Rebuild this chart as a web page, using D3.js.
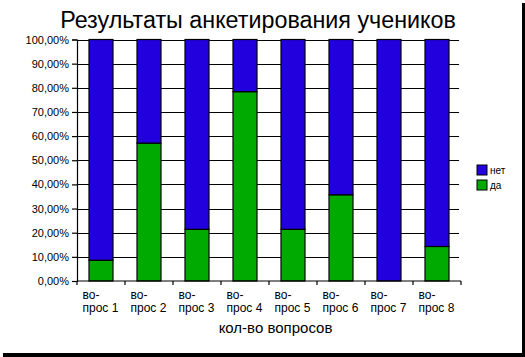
<!DOCTYPE html>
<html><head><meta charset="utf-8">
<script src="https://cdn.jsdelivr.net/npm/d3@7"></script>
<style>body{margin:0;background:#fff}svg{display:block;font-family:"Liberation Sans",Arial,sans-serif}</style>
</head><body>
<svg id="c" width="525" height="357"></svg>
<script>
const categories = ["вопрос 1","вопрос 2","вопрос 3","вопрос 4","вопрос 5","вопрос 6","вопрос 7","вопрос 8"];
const labelLine1 = ["во-","во-","во-","во-","во-","во-","во-","во-"];
const labelLine2 = ["прос 1","прос 2","прос 3","прос 4","прос 5","прос 6","прос 7","прос 8"];
const da  = [8.6, 57.1, 21.4, 78.4, 21.4, 35.7, 0, 14.3];
const net = [91.4, 42.9, 78.6, 21.6, 78.6, 64.3, 100, 85.7];
const seriesNames = ["да","нет"];
const yTicks = [0,10,20,30,40,50,60,70,80,90,100];
const colors = {"да":"#00AA00","нет":"#2200DD"};

const svg = d3.select("#c");
const m = {l:77, r:461, t:39.5, b:281};
const x = d3.scaleBand().domain(categories).range([m.l, m.r]).paddingInner(0.5).paddingOuter(0.25);
const y = d3.scaleLinear().domain([0,100]).range([m.b, m.t]);

// frame shadow
svg.append("rect").attr("x",522).attr("y",3).attr("width",3).attr("height",354).attr("fill","#000");
svg.append("rect").attr("x",3).attr("y",353).attr("width",522).attr("height",4).attr("fill","#000");

// title
svg.append("text").attr("x",258).attr("y",28).attr("text-anchor","middle")
  .attr("font-size",23.3).text("Результаты анкетирования учеников");

// gridlines
svg.append("g").selectAll("line").data(yTicks.filter(d=>d>0)).join("line")
  .attr("x1",m.l).attr("x2",m.r-2).attr("y1",d=>Math.round(y(d))+0.5).attr("y2",d=>Math.round(y(d))+0.5)
  .attr("stroke","#000").attr("stroke-width",1.2);

// stacked bars
const rows = categories.map((c,i)=>({cat:c,"да":da[i],"нет":net[i]}));
const stack = d3.stack().keys(seriesNames)(rows);
svg.append("g").selectAll("g").data(stack).join("g").attr("fill",d=>colors[d.key])
  .selectAll("rect").data(d=>d).join("rect")
  .attr("x",d=>x(d.data.cat)).attr("width",x.bandwidth())
  .attr("y",d=>y(d[1])).attr("height",d=>y(d[0])-y(d[1]))
  .attr("stroke","#000").attr("stroke-width",1.2);

// y axis
const ya = d3.axisLeft(y).tickValues(yTicks).tickSize(5).tickPadding(3)
  .tickFormat(d=>d3.format(".2f")(d).replace(".",",")+"%");
const yg = svg.append("g").attr("transform",`translate(${m.l},0)`).call(ya);
yg.select(".domain").attr("stroke","#000").attr("stroke-width",1.2);
yg.selectAll(".tick line").attr("stroke","#000").attr("stroke-width",1.2);
yg.selectAll("text").attr("font-size",11).attr("fill","#000").attr("font-family","Liberation Sans, Arial, sans-serif");

// x axis
const xg = svg.append("g").attr("transform",`translate(0,${m.b})`);
xg.append("line").attr("x1",m.l).attr("x2",m.r).attr("y1",0).attr("y2",0).attr("stroke","#000").attr("stroke-width",1.2);
const step = x.step();
xg.selectAll(".tk").data(categories.concat(["end"])).join("line")
  .attr("x1",(d,i)=>m.l+i*step).attr("x2",(d,i)=>m.l+i*step).attr("y1",0).attr("y2",4)
  .attr("stroke","#000").attr("stroke-width",1.2);
xg.selectAll(".l1").data(categories).join("text").attr("class","l1")
  .attr("font-size",12).attr("fill","#000")
  .attr("x",(d,i)=>m.l+i*step+5.5).attr("y",17.5).text((d,i)=>labelLine1[i]);
xg.selectAll(".l2").data(categories).join("text").attr("class","l2")
  .attr("font-size",12).attr("fill","#000")
  .attr("x",(d,i)=>m.l+i*step+5.5).attr("y",31).text((d,i)=>labelLine2[i]);

svg.append("text").attr("x",275.5).attr("y",333).attr("text-anchor","middle").attr("font-size",15).text("кол-во вопросов");

// legend
const lg = svg.append("g");
const legendItems = ["нет","да"];
lg.selectAll("rect").data(legendItems).join("rect")
  .attr("x",477).attr("y",(d,i)=>165+i*15).attr("width",10).attr("height",10)
  .attr("fill",d=>colors[d]).attr("stroke","#000").attr("stroke-width",1);
lg.selectAll("text").data(legendItems).join("text")
  .attr("x",490).attr("y",(d,i)=>174+i*15).attr("font-size",10).text(d=>d);
</script>
</body></html>
